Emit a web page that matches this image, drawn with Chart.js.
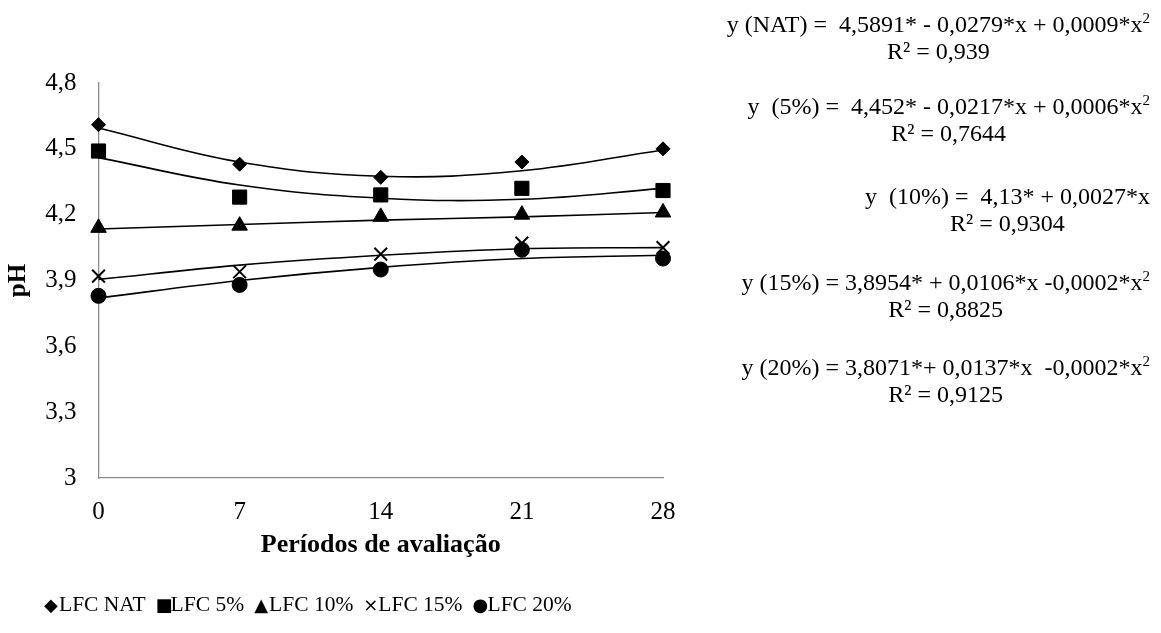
<!DOCTYPE html>
<html>
<head>
<meta charset="utf-8">
<script src="https://cdn.jsdelivr.net/npm/chart.js@4.4.1/dist/chart.umd.min.js"></script>
<style>
  body { margin: 0; background: #fff; }
  #wrap { position: relative; width: 1161px; height: 633px; font-family: "Liberation Serif", "Times New Roman", serif; color: #000; }
  #chart { position: absolute; left: 0; top: 0; }
  .eq { position: absolute; right: 11px; text-align: center; font-size: 24px; line-height: 27px; white-space: pre; }
  .eq sup { font-size: 15px; line-height: 0; vertical-align: 9px; }
  #legend { position: absolute; left: 44px; top: 590px; font-size: 21.5px; line-height: 28px; white-space: pre; display: flex; gap: 10px; }
  #legend .mk { font-family: "DejaVu Sans", sans-serif; font-size: 18px; display: inline-block; width: 14px; text-align: center; margin-right: 1px; }
</style>
</head>
<body>
<div id="wrap">
  <canvas id="chart" width="1161" height="633"></canvas>
  <div class="eq" style="top:11px"><div>y (NAT) =  4,5891* - 0,0279*x + 0,0009*x<sup>2</sup></div><div>R² = 0,939</div></div>
  <div class="eq" style="top:93px"><div>y  (5%) =  4,452* - 0,0217*x + 0,0006*x<sup>2</sup></div><div>R² = 0,7644</div></div>
  <div class="eq" style="top:183px"><div>y  (10%) =  4,13* + 0,0027*x</div><div>R² = 0,9304</div></div>
  <div class="eq" style="top:269px"><div>y (15%) = 3,8954* + 0,0106*x -0,0002*x<sup>2</sup></div><div>R² = 0,8825</div></div>
  <div class="eq" style="top:354px"><div>y (20%) = 3,8071*+ 0,0137*x  -0,0002*x<sup>2</sup></div><div>R² = 0,9125</div></div>
  <div id="legend"></div>
</div>
<script>
// evaluation periods (days)
const periods = [0, 7, 14, 21, 28];
const seriesNames = ['LFC NAT', 'LFC 5%', 'LFC 10%', 'LFC 15%', 'LFC 20%'];

// observed pH
const phNat = [4.61, 4.43, 4.37, 4.44, 4.50];
const ph5 = [4.49, 4.28, 4.29, 4.32, 4.31];
const ph10 = [4.14, 4.15, 4.19, 4.20, 4.21];
const ph15 = [3.92, 3.94, 4.02, 4.07, 4.05];
const ph20 = [3.83, 3.88, 3.95, 4.04, 4.00];

// trend lines
const trendNat = [4.595, 4.44, 4.375, 4.40, 4.495];
const trend5 = [4.46, 4.335, 4.275, 4.27, 4.32];
const trend10 = [4.135, 4.155, 4.175, 4.19, 4.21];
const trend15 = [3.905, 3.97, 4.015, 4.045, 4.05];
const trend20 = [3.82, 3.90, 3.96, 4.00, 4.015];

const yTicks = [3, 3.3, 3.6, 3.9, 4.2, 4.5, 4.8];

const markers = [
    { style: 'rectRot', radius: 7, glyph: '◆' },
    { style: 'rect', radius: 10, glyph: '■' },
    { style: 'triangle', radius: 9, glyph: '▲' },
    { style: 'crossRot', radius: 9, glyph: '×' },
    { style: 'circle', radius: 7.5, glyph: '●' }
];

const observed = [phNat, ph5, ph10, ph15, ph20];
const trends = [trendNat, trend5, trend10, trend15, trend20];

function toXY(values) {
    return periods.map((p, i) => ({ x: p, y: values[i] }));
}

const datasets = [];
observed.forEach((vals, i) => {
    datasets.push({
        label: seriesNames[i],
        data: toXY(vals),
        showLine: false,
        pointStyle: markers[i].style,
        pointRadius: markers[i].radius,
        pointBackgroundColor: '#000',
        pointBorderColor: '#000',
        pointBorderWidth: markers[i].style === 'crossRot' ? 2 : 1,
        clip: false
    });
});
trends.forEach((vals, i) => {
    datasets.push({
        label: 'trend ' + seriesNames[i],
        data: toXY(vals),
        showLine: true,
        borderColor: '#000',
        borderWidth: 1.6,
        pointRadius: 0,
        tension: 0.4,
        fill: false,
        clip: false
    });
});

const serif = '"Liberation Serif", "Times New Roman", serif';

new Chart(document.getElementById('chart'), {
    type: 'scatter',
    data: { datasets: datasets },
    options: {
        responsive: false,
        animation: false,
        events: [],
        layout: { padding: { left: 4, top: 83, right: 498, bottom: 70 } },
        plugins: { legend: { display: false }, tooltip: { enabled: false } },
        scales: {
            x: {
                type: 'linear',
                min: 0,
                max: 28,
                afterBuildTicks(scale) { scale.ticks = periods.map(v => ({ value: v })); },
                afterFit(scale) { scale.height = 85; },
                grid: { display: false, drawTicks: false },
                border: { display: true, color: '#8c8c8c', width: 1.3 },
                ticks: { color: '#000', padding: 19, font: { family: serif, size: 25 } },
                title: { display: true, text: 'Períodos de avaliação', color: '#000',
                         padding: { top: 0, bottom: 2 }, font: { family: serif, size: 26, weight: 'bold' } }
            },
            y: {
                min: 3,
                max: 4.8,
                afterBuildTicks(scale) { scale.ticks = yTicks.map(v => ({ value: v })); },
                afterFit(scale) { scale.width = 94.5; },
                grid: { display: false, drawTicks: false },
                border: { display: true, color: '#8c8c8c', width: 1.3 },
                ticks: {
                    color: '#000', padding: 22, font: { family: serif, size: 25 },
                    callback: v => Math.abs(v - Math.round(v)) < 1e-9 ? String(Math.round(v)) : v.toFixed(1).replace('.', ',')
                },
                title: { display: true, text: 'pH', color: '#000', padding: 0,
                         font: { family: serif, size: 25, weight: 'bold' } }
            }
        }
    }
});

// legend as text
document.getElementById('legend').innerHTML = seriesNames
    .map((n, i) => '<span><span class="mk">' + markers[i].glyph + '</span>' + n + '</span>')
    .join('');
</script>
</body>
</html>
